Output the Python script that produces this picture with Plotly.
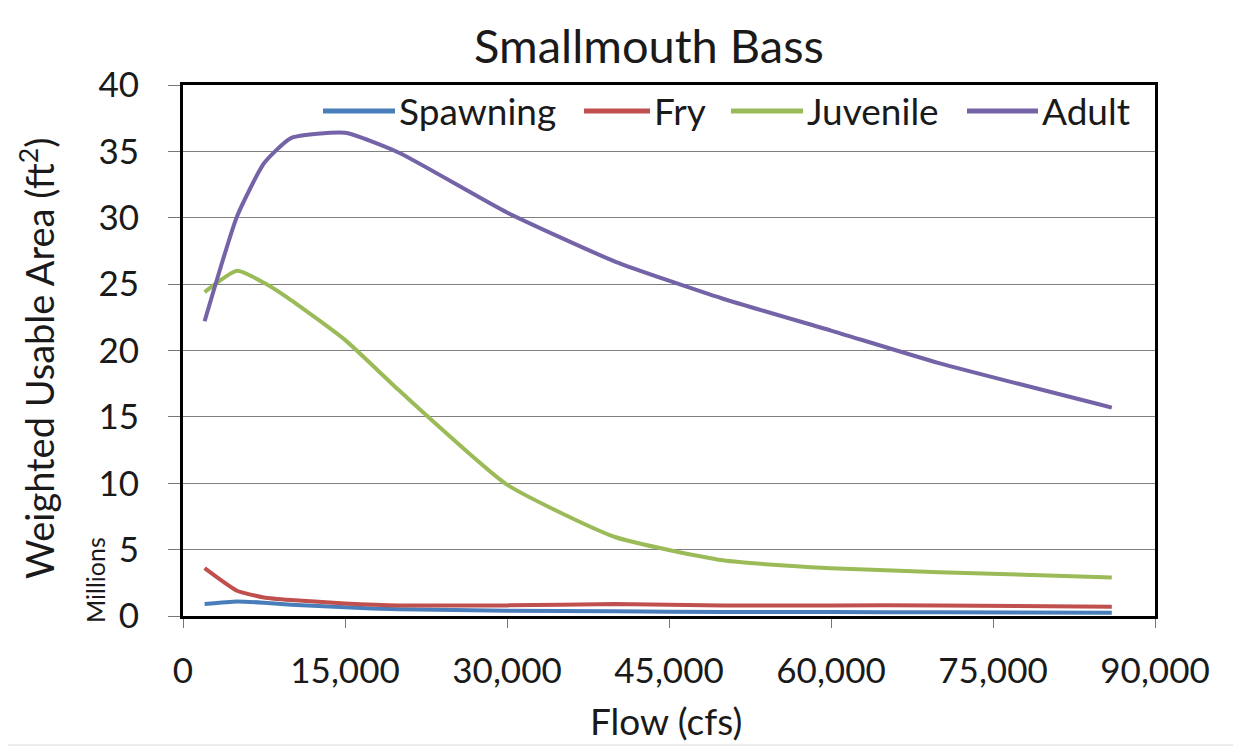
import plotly.graph_objects as go

flow = [2000, 5000, 7500, 10000, 15000, 20000, 30000, 40000, 50000, 60000, 70000, 86000]
spawning = [0.9, 1.1, 1.0, 0.85, 0.65, 0.5, 0.4, 0.35, 0.3, 0.3, 0.28, 0.25]
fry = [3.6, 1.9, 1.4, 1.2, 0.95, 0.8, 0.8, 0.9, 0.8, 0.8, 0.8, 0.7]
juvenile = [24.4, 26.0, 25.1, 23.8, 20.8, 17.0, 9.9, 5.95, 4.2, 3.6, 3.3, 2.9]
adult = [22.2, 30.1, 34.1, 36.0, 36.4, 34.9, 30.4, 26.7, 23.9, 21.5, 19.05, 15.7]

x_ticks = [0, 15000, 30000, 45000, 60000, 75000, 90000]
x_ticktext = ["0", "15,000", "30,000", "45,000", "60,000", "75,000", "90,000"]
y_ticks = [0, 5, 10, 15, 20, 25, 30, 35, 40]

names = ["Spawning", "Fry", "Juvenile", "Adult"]
values = [spawning, fry, juvenile, adult]
colors = ["#4A7EBB", "#C0504D", "#9BBB59", "#7563A8"]

FONT = "Lato"
TXT = "#1a1a1a"

# plot area in screen px (page has 8px body margin)
PX0, PX1, PY0, PY1 = 183, 1155, 85, 616
def px(x):
    return (x - PX0) / (PX1 - PX0)
def py(y):
    return (PY1 - y) / (PY1 - PY0)

fig = go.Figure()
for name, vals, col in zip(names, values, colors):
    fig.add_trace(go.Scatter(x=flow, y=vals, mode="lines", name=name, showlegend=False,
                             line=dict(color=col, width=4, shape="spline", smoothing=0.5)))

fig.update_layout(
    width=1233, height=742,
    paper_bgcolor="white", plot_bgcolor="white",
    margin=dict(l=175, r=86, t=77, b=134),
    font=dict(family=FONT, size=35, color=TXT),
    title=dict(text="Smallmouth Bass", xref="container", x=(649 - 8) / 1233, xanchor="center",
               yref="container", y=1 - 39 / 742, yanchor="middle",
               font=dict(size=47, family=FONT, color=TXT)),
    showlegend=False,
)
fig.update_xaxes(range=[0, 90000], tickvals=x_ticks, ticktext=x_ticktext,
                 showgrid=False, showline=True, linecolor="black", linewidth=3, mirror=True,
                 ticks="outside", ticklen=9, tickcolor="#777", ticklabelstandoff=13,
                 zeroline=False, tickfont=dict(size=35, family=FONT, color=TXT))
fig.update_yaxes(range=[0, 40], tickvals=y_ticks,
                 showgrid=True, gridcolor="#808080", gridwidth=1,
                 showline=True, linecolor="black", linewidth=3, mirror=True,
                 ticks="outside", ticklen=12, tickcolor="#777", ticklabelstandoff=22,
                 zeroline=False, tickfont=dict(size=35, family=FONT, color=TXT))

# axis titles
fig.add_annotation(text="Weighted Usable Area (ft<sup>2</sup>)", xref="paper", yref="paper",
                   x=px(37), y=py(359), xanchor="center", yanchor="middle",
                   textangle=-90, showarrow=False,
                   font=dict(size=38, family=FONT, color=TXT))
fig.add_annotation(text="Millions", xref="paper", yref="paper",
                   x=px(95), y=py(580), xanchor="center", yanchor="middle",
                   textangle=-90, showarrow=False,
                   font=dict(size=25, family=FONT, color=TXT))
fig.add_annotation(text="Flow (cfs)", xref="paper", yref="paper",
                   x=px(666), y=py(720), xanchor="center", yanchor="middle", showarrow=False,
                   font=dict(size=37, family=FONT, color=TXT))

# legend (inside top of plot area)
leg_y = py(111)
leg_lines = [(323, 395), (584, 650), (731, 803), (967, 1038)]
for name, col, (a, b) in zip(names, colors, leg_lines):
    fig.add_shape(type="line", xref="paper", yref="paper", x0=px(a), x1=px(b), y0=leg_y, y1=leg_y,
                  line=dict(color=col, width=5))
    fig.add_annotation(text=name, xref="paper", yref="paper", x=px(b + 2), y=leg_y,
                       xanchor="left", yanchor="middle", showarrow=False,
                       font=dict(size=37, family=FONT, color=TXT))

# outer chart border
fig.add_shape(type="rect", xref="paper", yref="paper", x0=px(5), x1=px(1237), y0=py(745), y1=py(5),
              line=dict(color="#d9d9d9", width=1), layer="below")

fig.write_html("out.html")
